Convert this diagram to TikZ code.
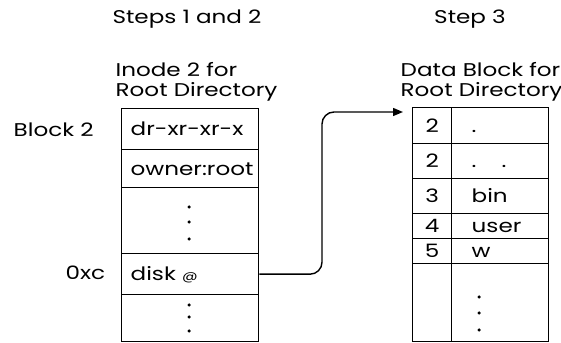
\documentclass[tikz,border=0pt]{standalone}
\usepackage{fontspec}
\setmainfont{Poppins}[FakeStretch=1.25]
\usetikzlibrary{arrows.meta}

\begin{document}
\begin{tikzpicture}[x=0.2mm, y=-0.2mm, line width=0.8pt,
    every node/.style={font=\fontsize{10.5}{11.4}\selectfont, inner sep=0pt},
    cell/.style={draw, anchor=north west, text height=2.6mm, text depth=0mm},
    inodecell/.style={cell, minimum width=27.4mm, text width=23.8mm, inner xsep=1.8mm, align=left},
    numcell/.style={cell, minimum width=7.8mm, align=center},
    entcell/.style={cell, minimum width=19.4mm, text width=11.4mm, inner xsep=4mm, align=left}]
\useasboundingbox (0,0) rectangle (561,343);
\node (steps) at (187,19) {Steps 1 and 2};
\node (step3) at (470,19) {Step 3};
\node[align=left, anchor=north west] (inodecap) at (115,62) {Inode 2 for\\Root Directory};
\node[align=left, anchor=north west] (datacap) at (400,62) {Data Block for\\Root Directory};
\node[anchor=base west] (blk) at (13,137) {Block 2};
\node[anchor=base west] (off) at (65,280) {0xc};
\node[inodecell, minimum height=8.2mm] (in1) at (121,108) {dr-xr-xr-x};
\node[inodecell, minimum height=7.6mm] (in2) at (121,149) {owner:root};
\node[inodecell, minimum height=13.2mm] (in3) at (121,187) {};
\node[inodecell, minimum height=8.2mm] (in4) at (121,253) {disk {\scriptsize @}};
\node[inodecell, minimum height=9.4mm] (in5) at (121,294) {};
\foreach \y in {207,222,239,305,317,331}
  \fill (189,\y) circle (0.35mm);
\foreach \y/\h/\num/\ent [count=\i] in {107/7.2/2/., 143/7.0/2/{.\hspace{5mm}.}, 178/7.0/3/bin, 213/5.0/4/user, 238/5.0/5/w, 263/15.6//} {
  \node[numcell, minimum height=\h mm] (num\i) at (412,\y) {\num};
  \node[entcell, minimum height=\h mm] (ent\i) at (451,\y) {\ent};
}
\foreach \y in {297,313,330}
  \fill (479,\y) circle (0.35mm);
\coordinate (bend) at (322,112);
\coordinate (tip) at (403,112);
\draw[-{Triangle[length=2mm,width=1.6mm]}, rounded corners=2.4mm] (in4.east) -| (bend) -- (tip);
\end{tikzpicture}
\end{document}
